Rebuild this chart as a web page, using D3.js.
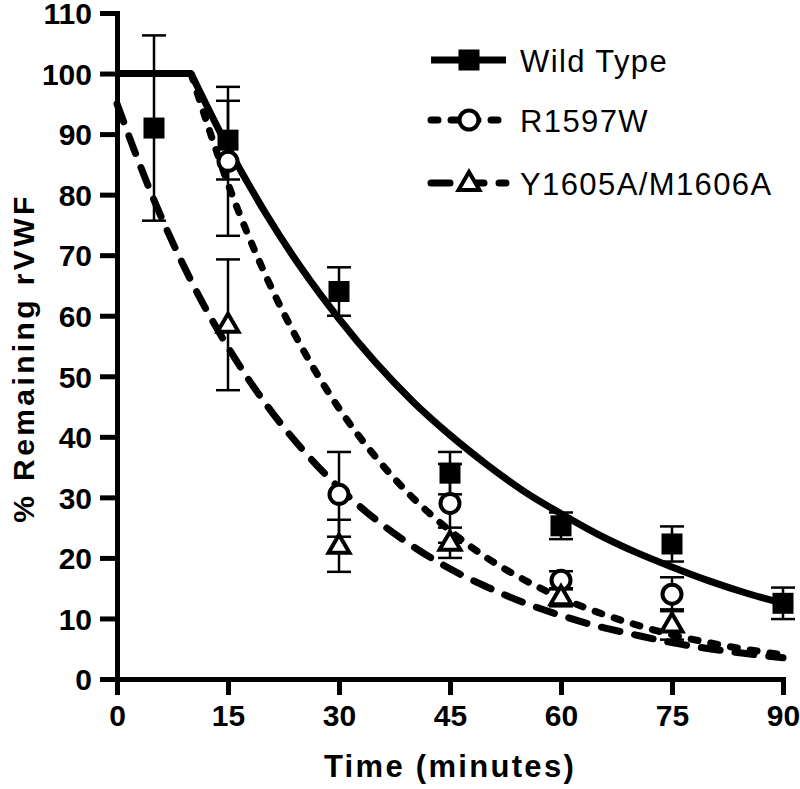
<!DOCTYPE html>
<html>
<head>
<meta charset="utf-8">
<script src="https://cdn.jsdelivr.net/npm/d3@7"></script>
<style>
  html, body { margin: 0; padding: 0; background: #fff; }
  svg { display: block; font-family: "Liberation Sans", Arial, sans-serif; }
</style>
</head>
<body>
<svg id="chart" width="800" height="789"></svg>
<script>
// ---- data ----
const xTicks = [0, 15, 30, 45, 60, 75, 90];
const yTicks = [0, 10, 20, 30, 40, 50, 60, 70, 80, 90, 100, 110];

const seriesNames = ["Wild Type", "R1597W", "Y1605A/M1606A"];

const wtTimes = [5, 15, 30, 45, 60, 75, 90];
const wtMean  = [91, 89, 64, 34, 25.3, 22.3, 12.5];
const wtErr   = [15.3, 6.5, 4, 3.5, 2.2, 2.9, 2.6];

const rTimes = [15, 30, 45, 60, 75];
const rMean  = [85.5, 30.5, 29, 16.3, 14];
const rErr   = [12.3, 7, 6.5, 1.5, 2.8];

const yTimes = [15, 30, 45, 60, 75];
const yMean  = [58.5, 22, 22.5, 13.5, 9];
const yErr   = [10.8, 4.3, 2.5, 1.5, 2.5];

// fitted curves
const wtPlateauT = [0, 10];
const wtPlateauV = [100, 100];
const wtFitT = [10, 15, 20, 25, 30, 35, 40, 45, 50, 55, 60, 65, 70, 75, 80, 85, 90];
const wtFitV = [100, 87.8, 77.1, 67.7, 59.5, 52.2, 45.8, 40.3, 35.4, 31.0, 27.3, 23.9, 21.0, 18.5, 16.2, 14.2, 12.5];

const rFitT = [10, 15, 20, 25, 30, 35, 40, 45, 50, 55, 60, 65, 70, 75, 80, 85, 90];
const rFitV = [100, 81.8, 66.9, 54.7, 44.7, 36.6, 29.9, 24.5, 20.0, 16.4, 13.4, 11.0, 9.0, 7.3, 6.0, 4.9, 4.0];

const yFitT = [0, 5, 10, 15, 20, 25, 30, 35, 40, 45, 50, 55, 60, 65, 70, 75, 80, 85, 90];
const yFitV = [95, 79.1, 65.8, 54.8, 45.6, 38.0, 31.6, 26.3, 21.9, 18.2, 15.2, 12.6, 10.5, 8.7, 7.3, 6.0, 5.0, 4.2, 3.5];

// ---- drawing ----
const svg = d3.select("#chart");
const x = d3.scaleLinear().domain([0, 90]).range([117, 783]);
const y = d3.scaleLinear().domain([0, 110]).range([679, 13]);

const styles = [
  { dash: null, marker: "square" },
  { dash: "7,13", marker: "circle" },
  { dash: "19,15", marker: "triangle" }
];

// axes
const xAxis = svg.append("g").attr("transform", `translate(0,${y(0)})`)
  .call(d3.axisBottom(x).tickValues(xTicks).tickSize(16).tickSizeOuter(0).tickPadding(10).tickFormat(d3.format("d")));
const yAxis = svg.append("g").attr("transform", `translate(${x(0)},0)`)
  .call(d3.axisLeft(y).tickValues(yTicks).tickSize(17).tickSizeOuter(0).tickPadding(8).tickFormat(d3.format("d")));
[xAxis, yAxis].forEach(g => {
  g.select(".domain").attr("stroke", "#000").attr("stroke-width", 5).attr("stroke-linecap", "square");
  g.selectAll(".tick line").attr("stroke", "#000").attr("stroke-width", 5);
  g.selectAll(".tick text").attr("fill", "#000").attr("font-size", 30).attr("font-weight", "bold")
    .attr("font-family", "'Liberation Sans', Arial, sans-serif");
});
xAxis.selectAll(".tick text").attr("dy", "0.71em");
yAxis.selectAll(".tick text").attr("dy", "0.36em");

// axis titles
svg.append("text").attr("x", x(45)).attr("y", 777).attr("text-anchor", "middle")
  .attr("font-size", 31).attr("font-weight", "bold").attr("letter-spacing", 2.3)
  .text("Time (minutes)");
svg.append("text").attr("transform", `translate(34,${(y(0) + y(110)) / 2 + 12}) rotate(-90)`)
  .attr("text-anchor", "middle").attr("font-size", 30).attr("font-weight", "bold").attr("letter-spacing", 3.4)
  .text("% Remaining rVWF");

// curves
const line = d3.line().x(d => x(d[0])).y(d => y(d[1])).curve(d3.curveMonotoneX);
const zip = (a, b) => a.map((t, i) => [t, b[i]]);
const curves = [
  [zip(wtPlateauT, wtPlateauV), 0],
  [zip(wtFitT, wtFitV), 0],
  [zip(rFitT, rFitV), 1],
  [zip(yFitT, yFitV), 2]
];
curves.forEach(([pts, s]) => {
  svg.append("path").attr("d", line(pts)).attr("fill", "none").attr("stroke", "#000")
    .attr("stroke-width", 7).attr("stroke-linecap", s === 0 ? "butt" : "round")
    .attr("stroke-linejoin", "round")
    .attr("stroke-dasharray", styles[s].dash);
});

// marker drawer
function drawMarker(g, type, cx, cy) {
  if (type === "square") {
    g.append("rect").attr("x", cx - 10.5).attr("y", cy - 10.5).attr("width", 21).attr("height", 21).attr("fill", "#000");
  } else if (type === "circle") {
    g.append("circle").attr("cx", cx).attr("cy", cy).attr("r", 9.5).attr("fill", "#fff")
      .attr("stroke", "#000").attr("stroke-width", 4);
  } else {
    const s = d3.symbol().type(d3.symbolTriangle).size(190);
    g.append("path").attr("d", s()).attr("transform", `translate(${cx},${cy + 1})`)
      .attr("fill", "#fff").attr("stroke", "#000").attr("stroke-width", 4).attr("stroke-linejoin", "miter");
  }
}

// points with error bars
const datasets = [
  [wtTimes, wtMean, wtErr, 0],
  [rTimes, rMean, rErr, 1],
  [yTimes, yMean, yErr, 2]
];
datasets.forEach(([ts, ms, es, s]) => {
  const g = svg.append("g");
  ts.forEach((t, i) => {
    const cx = x(t);
    const top = y(ms[i] + es[i]), bot = y(ms[i] - es[i]);
    g.append("line").attr("x1", cx).attr("x2", cx).attr("y1", top).attr("y2", bot)
      .attr("stroke", "#000").attr("stroke-width", 2.5);
    [top, bot].forEach(yy => g.append("line").attr("x1", cx - 12).attr("x2", cx + 12)
      .attr("y1", yy).attr("y2", yy).attr("stroke", "#000").attr("stroke-width", 2.5));
  });
});
datasets.forEach(([ts, ms, es, s]) => {
  const g = svg.append("g");
  ts.forEach((t, i) => drawMarker(g, styles[s].marker, x(t), y(ms[i])));
});

// legend
const legendY = [60, 120, 183];
seriesNames.forEach((name, i) => {
  const g = svg.append("g");
  const ly = legendY[i];
  g.append("line").attr("x1", 431).attr("x2", 506).attr("y1", ly).attr("y2", ly)
    .attr("stroke", "#000").attr("stroke-width", 7)
    .attr("stroke-linecap", i === 0 ? "butt" : "round")
    .attr("stroke-dasharray", styles[i].dash);
  drawMarker(g, styles[i].marker, 469, ly);
  g.append("text").attr("x", 520).attr("y", ly + 12).attr("font-size", 31)
    .attr("letter-spacing", 1.4).text(name);
});
</script>
</body>
</html>
